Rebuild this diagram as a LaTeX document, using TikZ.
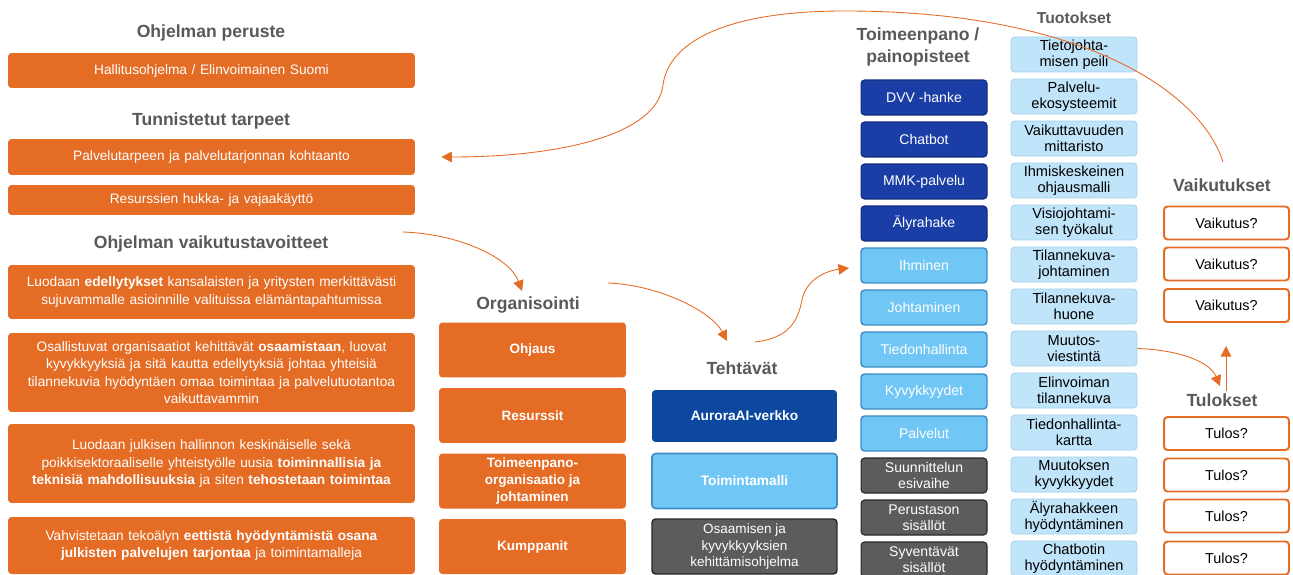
\documentclass[tikz,border=0pt]{standalone}
\usepackage{fontspec}
\setmainfont{Liberation Sans}
\usepackage{tikz}
\usetikzlibrary{arrows.meta}

\definecolor{orng}{RGB}{229,108,37}
\definecolor{ttlgray}{RGB}{89,89,89}
\definecolor{dblue}{RGB}{26,62,165}
\definecolor{dblueline}{RGB}{16,42,125}
\definecolor{aurora}{RGB}{12,72,160}
\definecolor{lblue}{RGB}{112,198,245}
\definecolor{lblueline}{RGB}{62,140,195}
\definecolor{pblue}{RGB}{192,228,250}
\definecolor{pblueline}{RGB}{158,206,238}
\definecolor{dgray}{RGB}{92,92,92}
\definecolor{dgrayline}{RGB}{40,40,40}

\begin{document}
\begin{tikzpicture}[
  x=0.02cm, y=-0.02cm,
  ttl/.style={font=\bfseries\fontsize{10}{12.5}\selectfont, text=ttlgray, align=center},
  gnode/.style={fill=orng, rounded corners=2pt, text=white, align=center, text width=8.14cm, inner xsep=0pt, inner ysep=0pt, font=\fontsize{7.8}{9.8}\selectfont},
  onode/.style={fill=orng, rounded corners=2pt, text=white, align=center, minimum width=3.74cm, minimum height=1.1cm, inner sep=1pt, font=\bfseries\fontsize{7.7}{9.9}\selectfont},
  tnode/.style={rounded corners=2pt, text=white, align=center, minimum width=3.7cm, minimum height=1.1cm, inner sep=1pt, font=\fontsize{7.7}{9.6}\selectfont},
  pnode/.style={rounded corners=2pt, text=white, align=center, minimum width=2.52cm, minimum height=0.7cm, inner sep=1pt, font=\fontsize{8}{9}\selectfont},
  unode/.style={fill=pblue, draw=pblueline, line width=0.4pt, rounded corners=2pt, align=center, minimum width=2.52cm, minimum height=0.7cm, inner sep=1pt, font=\fontsize{8.3}{9.1}\selectfont},
  rnode/.style={fill=white, draw=orng, line width=1.1pt, rounded corners=2pt, minimum width=2.5cm, minimum height=0.66cm, inner sep=1pt, font=\fontsize{8.2}{9}\selectfont},
  conn/.style={draw=orng, line width=0.5pt, -{Triangle[length=6pt,width=6pt]}}
]
  \useasboundingbox (0,0) rectangle (1293,574);

  % program basis and needs
  \node[ttl] (ttl1) at (211,33) {Ohjelman peruste};
  \node[gnode, minimum height=0.7cm] (p1) at (211.5,70.5) {Hallitusohjelma / Elinvoimainen Suomi};
  \node[ttl] (ttl2) at (211,121) {Tunnistetut tarpeet};
  \node[gnode, minimum height=0.72cm] (p2) at (211.5,157) {Palvelutarpeen ja palvelutarjonnan kohtaanto};
  \node[gnode, minimum height=0.6cm] (p3) at (211.5,200) {Resurssien hukka- ja vajaakäyttö};

  % impact goals
  \node[ttl] (ttl3) at (211,244) {Ohjelman vaikutustavoitteet};
  \node[gnode, minimum height=1.08cm] (p4) at (211.5,292) {Luodaan \textbf{edellytykset} kansalaisten ja yritysten merkittävästi\\ sujuvammalle asioinnille valituissa elämäntapahtumissa};
  \node[gnode, minimum height=1.58cm] (p5) at (211.5,372.5) {Osallistuvat organisaatiot kehittävät \textbf{osaamistaan}, luovat\\ kyvykkyyksiä ja sitä kautta edellytyksiä johtaa yhteisiä\\ tilannekuvia hyödyntäen omaa toimintaa ja palvelutuotantoa\\ vaikuttavammin};
  \node[gnode, minimum height=1.58cm] (p6) at (211.5,463.5) {Luodaan julkisen hallinnon keskinäiselle sekä\\ poikkisektoraaliselle yhteistyölle uusia \textbf{toiminnallisia ja}\\ \textbf{teknisiä mahdollisuuksia} ja siten \textbf{tehostetaan toimintaa}};
  \node[gnode, minimum height=1.14cm] (p7) at (211.5,545.5) {Vahvistetaan tekoälyn \textbf{eettistä hyödyntämistä osana}\\ \textbf{julkisten palvelujen tarjontaa} ja toimintamalleja};

  % organising
  \node[ttl] (ttlo) at (528,305) {Organisointi};
  \node[onode] (o1) at (532.5,350) {Ohjaus};
  \node[onode] (o2) at (532.5,415.5) {Resurssit};
  \node[onode] (o3) at (532.5,481) {Toimeenpano-\\organisaatio ja\\johtaminen};
  \node[onode] (o4) at (532.5,546.5) {Kumppanit};

  % tasks
  \node[ttl] (ttlt) at (742,368) {Tehtävät};
  \node[tnode, fill=aurora, minimum height=1.04cm, font=\bfseries\fontsize{7.8}{9.6}\selectfont] (t1) at (744.5,416) {AuroraAI-verkko};
  \node[tnode, fill=lblue, draw=lblueline, line width=0.9pt, font=\bfseries\fontsize{7.8}{9.6}\selectfont] (t2) at (744.5,481) {Toimintamalli};
  \node[tnode, fill=dgray, draw=dgrayline, line width=0.8pt] (t3) at (744.5,546.5) {Osaamisen ja\\kyvykkyyksien\\kehittämisohjelma};

  % implementation
  \node[ttl] (ttli) at (918,47) {Toimeenpano /\\painopisteet};
  \node[pnode, fill=dblue, draw=dblueline, line width=0.6pt] (i1) at (924,97.5) {DVV -hanke};
  \node[pnode, fill=dblue, draw=dblueline, line width=0.6pt] (i2) at (924,139.5) {Chatbot};
  \node[pnode, fill=dblue, draw=dblueline, line width=0.6pt] (i3) at (924,181.5) {MMK-palvelu};
  \node[pnode, fill=dblue, draw=dblueline, line width=0.6pt] (i4) at (924,223.5) {Älyrahake};
  \node[pnode, fill=lblue, draw=lblueline, line width=0.8pt] (i5) at (924,265.5) {Ihminen};
  \node[pnode, fill=lblue, draw=lblueline, line width=0.8pt] (i6) at (924,307.5) {Johtaminen};
  \node[pnode, fill=lblue, draw=lblueline, line width=0.8pt] (i7) at (924,349.5) {Tiedonhallinta};
  \node[pnode, fill=lblue, draw=lblueline, line width=0.8pt] (i8) at (924,391.5) {Kyvykkyydet};
  \node[pnode, fill=lblue, draw=lblueline, line width=0.8pt] (i9) at (924,433.5) {Palvelut};
  \node[pnode, fill=dgray, draw=dgrayline, line width=0.6pt] (i10) at (924,475.5) {Suunnittelun\\esivaihe};
  \node[pnode, fill=dgray, draw=dgrayline, line width=0.6pt] (i11) at (924,517.5) {Perustason\\sisällöt};
  \node[pnode, fill=dgray, draw=dgrayline, line width=0.6pt] (i12) at (924,559.5) {Syventävät\\sisällöt};

  % outputs
  \node[ttl, font=\bfseries\fontsize{9}{11}\selectfont] (ttlu) at (1074,18) {Tuotokset};
  \node[unode] (u1) at (1074,54.5) {Tietojohta-\\misen peili};
  \node[unode] (u2) at (1074,96.5) {Palvelu-\\ekosysteemit};
  \node[unode] (u3) at (1074,138.5) {Vaikuttavuuden\\mittaristo};
  \node[unode] (u4) at (1074,180.5) {Ihmiskeskeinen\\ohjausmalli};
  \node[unode] (u5) at (1074,222.5) {Visiojohtami-\\sen työkalut};
  \node[unode] (u6) at (1074,264.5) {Tilannekuva-\\johtaminen};
  \node[unode] (u7) at (1074,306.5) {Tilannekuva-\\huone};
  \node[unode] (u8) at (1074,348.5) {Muutos-\\viestintä};
  \node[unode] (u9) at (1074,390.5) {Elinvoiman\\tilannekuva};
  \node[unode] (u10) at (1074,432.5) {Tiedonhallinta-\\kartta};
  \node[unode] (u11) at (1074,474.5) {Muutoksen\\kyvykkyydet};
  \node[unode] (u12) at (1074,516.5) {Älyrahakkeen\\hyödyntäminen};
  \node[unode] (u13) at (1074,558.5) {Chatbotin\\hyödyntäminen};

  % impacts and results
  \node[ttl] (ttlv) at (1222,185) {Vaikutukset};
  \node[rnode] (v1) at (1226.5,223) {Vaikutus?};
  \node[rnode] (v2) at (1226.5,264) {Vaikutus?};
  \node[rnode] (v3) at (1226.5,305.5) {Vaikutus?};
  \node[ttl] (ttlr) at (1222,400) {Tulokset};
  \node[rnode] (r1) at (1226.5,433.5) {Tulos?};
  \node[rnode] (r2) at (1226.5,475) {Tulos?};
  \node[rnode] (r3) at (1226.5,516) {Tulos?};
  \node[rnode] (r4) at (1226.5,558) {Tulos?};

  % free arrow ends
  \coordinate (aS) at (1223,162);
  \coordinate (bS) at (403,232);
  \coordinate (bE) at (522,291);
  \coordinate (cS) at (608,283);
  \coordinate (cE) at (727,341);
  \coordinate (dS) at (755,342);
  \coordinate (dE) at (849,268);
  \coordinate (eE) at (1220,386);
  \coordinate (fS) at (1226,391);
  \coordinate (fE) at (1226,346);

  % flow arrows
  \draw[conn, shorten >=0.52cm] (aS) .. controls (1200,90) and (1080,12) .. (850,11)
    .. controls (720,10) and (668,45) .. (663,85)
    .. controls (657,135) and (560,157) .. (p2.east);
  \draw[conn] (bS) .. controls (460,234) and (510,258) .. (bE);
  \draw[conn] (cS) .. controls (660,285) and (712,312) .. (cE);
  \draw[conn] (dS) .. controls (790,338) and (798,320) .. (802,300)
    .. controls (806,280) and (825,271) .. (dE);
  \draw[conn] (u8.east) .. controls (1180,350) and (1210,362) .. (eE);
  \draw[conn] (fS) -- (fE);

\end{tikzpicture}
\end{document}
